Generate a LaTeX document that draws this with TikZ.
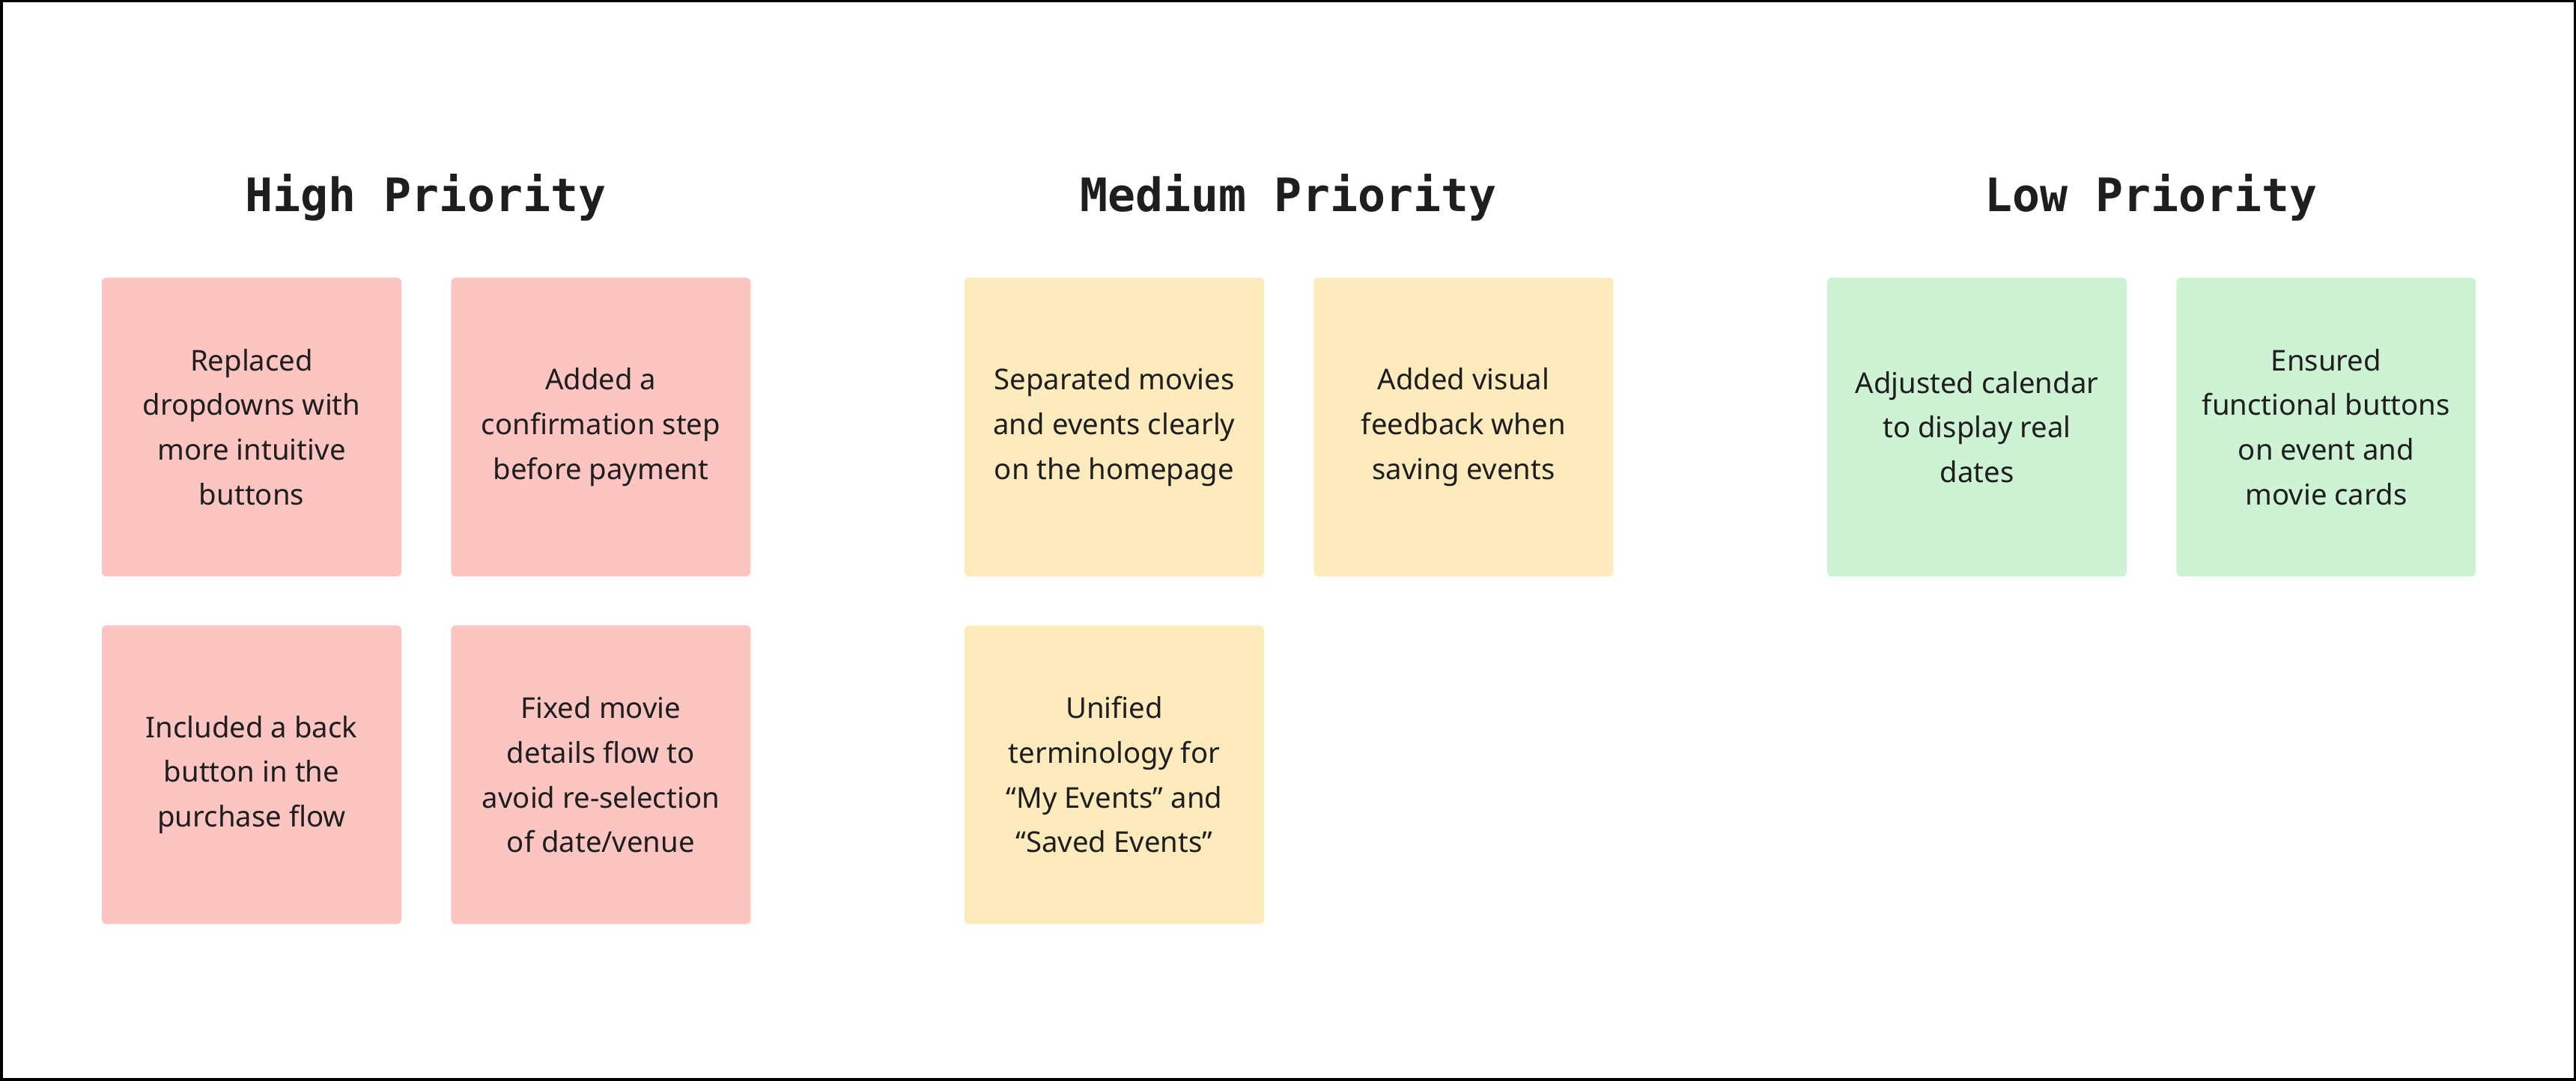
\documentclass[tikz,border=0pt]{standalone}
\usepackage{fontspec}
\setmainfont{Noto Sans}
\newfontfamily\monofont{DejaVu Sans Mono}
\usepackage{xcolor}
\usepackage{tikz}
\usetikzlibrary{chains,scopes}
\usetikzlibrary{positioning}

\definecolor{ink}{HTML}{1E1E1E}
\definecolor{cardred}{HTML}{FCC5C1}
\definecolor{cardyellow}{HTML}{FEEBBD}
\definecolor{cardgreen}{HTML}{CDF3D4}

\begin{document}
\begin{tikzpicture}[
	card/.style={fill=#1,minimum width=4cm,minimum height=3.99cm,rounded corners=0.06cm,inner sep=0pt,align=center,text=ink,font=\fontsize{10.9}{17}\selectfont},
	prio/.style={anchor=base,text=ink,font=\monofont\bfseries\fontsize{17.5}{20}\selectfont}]

	%% Bordo
	\path[use as bounding box] (0,0) rectangle (34.4,14.44);
	\draw[line width=0.035cm] (0.0175,0.0175) rectangle (34.3825,14.4225);

	%%% High
	\begin{scope}[start chain,node distance=0.65cm]
	\node[card=cardred,on chain] (h1) at (3.36,8.735) {Replaced\\dropdowns with\\more intuitive\\buttons};
	\node[card=cardred,on chain] (h2) {Added a\\confirmation step\\before payment};
	\end{scope};
	\begin{scope}[start chain,node distance=0.65cm]
	\node[card=cardred,on chain,below=0.64cm of h1] (h3) {Included a back\\button in the\\purchase flow};
	\node[card=cardred,on chain] (h4) {Fixed movie\\details flow to\\avoid re-selection\\of date/venue};
	\end{scope};

	%%% Medium
	\begin{scope}[start chain,node distance=0.65cm]
	\node[card=cardyellow,on chain] (m1) at (14.88,8.735) {Separated movies\\and events clearly\\on the homepage};
	\node[card=cardyellow,on chain] (m2) {Added visual\\feedback when\\saving events};
	\end{scope};
	\node[card=cardyellow,below=0.64cm of m1] (m3) {Unified\\terminology for\\“My Events” and\\“Saved Events”};

	%%% Low
	\begin{scope}[start chain,node distance=0.65cm]
	\node[card=cardgreen,on chain] (l1) at (26.40,8.735) {Adjusted calendar\\to display real\\dates};
	\node[card=cardgreen,on chain] (l2) {Ensured\\functional buttons\\on event and\\movie cards};
	\end{scope};

	%% Titoli
	\node[prio] (thigh) at (5.685,11.61) {High Priority};
	\node[prio] (tmed) at (17.205,11.61) {Medium Priority};
	\node[prio] (tlow) at (28.725,11.61) {Low Priority};
\end{tikzpicture}
\end{document}
